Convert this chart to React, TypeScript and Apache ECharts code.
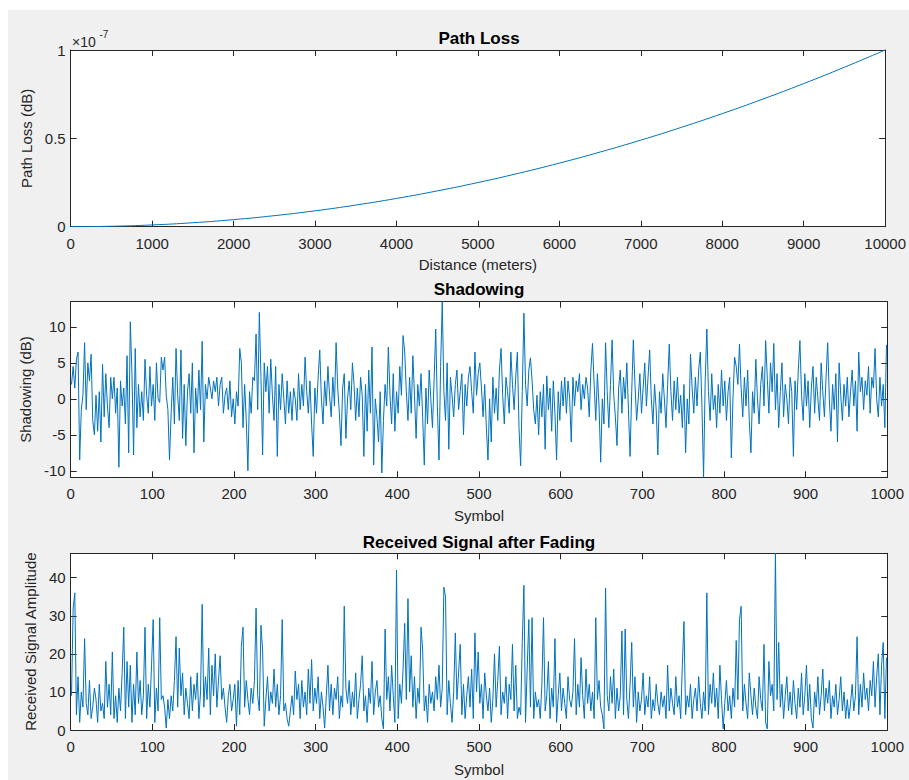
import React, { useEffect, useRef } from "react";
import * as echarts from "echarts";

// Path loss curve (distance in meters, loss in linear units)
const distances = [0, 500, 1000, 1500, 2000, 2500, 3000, 3500, 4000, 4500, 5000, 5500, 6000, 6500, 7000, 7500, 8000, 8500, 9000, 9500, 10000];
const pathLoss = [0, 0.0025e-7, 0.01e-7, 0.0225e-7, 0.04e-7, 0.0625e-7, 0.09e-7, 0.1225e-7, 0.16e-7, 0.2025e-7, 0.25e-7, 0.3025e-7, 0.36e-7, 0.4225e-7, 0.49e-7, 0.5625e-7, 0.64e-7, 0.7225e-7, 0.81e-7, 0.9025e-7, 1.0e-7];

// Shadowing (dB), sampled at symbols 1,3,5,...,999
const shadowing = [
  2, 4.5, 1.5, 5.5, 6.5, -8.5, -1.5, 0.5, 7.8, -1.5, 5, 2.5, 6.2, -3, -5, 0.5, -4.5, 1, -6, 4.8, -2.5, 3.5, -1, -4, 3,
  0, 3, -2, 1.5, -9.5, 2.5, -1, 1.5, -3.5, 6, -7.5, 10.7, 3.5, -7.8, 7, -4, 2, -2.5, 1, -3, 5.5, 0.5, -2, 4.5, -1,
  2, -3, 5, 0, -0.5, 5.8, 4, 5.8, 0.5, -1.5, -8.5, -2, 3, -3.5, 7, 0.5, -3, 6.8, -5.5, 2, -6.5, 1, 3.5, -2, 5,
  -7.5, 1.5, -2, 4, -1.5, 8, -6, 2, 0, 3, 1.5, 0, 2.5, 1, 3, -1, 2, 3, -2, 0.5, 1.5, -1.5, 2.5, -2.5, 0,
  -3.5, 1, -1, 7, 5, -4, 2, -3, -10, 1, -2, 3, 2.5, 9, -1.5, 12, 3, -7.8, 5, 1, 4.5, -2, 5.5, 0.5, -3,
  4.5, -8, 2, -1.5, 3.5, 0, -3.5, 2.5, -2, 1, -3, 1.5, 0, -3, 3.5, -1.5, 2, -1, 5.8, 1, -2, 2.5, -3.5, -8, 1.5,
  -2, 3, 6.8, 0, -3.5, 2.5, -1, 4.5, 0.5, -2.5, 3, -1, 7.8, 1.5, -2, -6.5, 1.5, 3.5, -5.5, 0, 2.5, -1.5, 5, 2, -3,
  1.5, -2.5, 3, 0.5, -8, 2, -4.5, 4, -2, 7.2, -9.2, 0, -2.5, -6, 1, -10.3, -3, 2, -1, 7.2, 0.5, -3.5, 3.5, -4.5, 1,
  -2, 4.5, 0.5, 8.8, 6.5, 1, -3, 3, -2, 6, 0.5, -5.5, 2, -1, 3.5, -2.5, -9.2, 1.5, -3.5, 4, 0, -4, 2.5, 9.7, -1,
  -8.5, 4.5, 13.5, 1, -3, 5, -7, 3, 0.5, -2.5, 2, 4, -1.5, 1, 3.5, -5, 2, -1, 3, 4.5, 1, -2, 6.5, 0.5, 3.5,
  5, 1.5, -2.5, 2, -4, -8.5, 0, -6, 3, -2, 1.5, -3, 4, 7, 0.5, -3.5, 3, 1, -2, 6.5, 2, -1.5, 3, 6.5, -4,
  -9.3, 1, 11.9, 2, -1, 4, 5.7, 2.5, -1.5, -3.5, 0.5, -5, 1, -2.5, 2, -7, 3.2, -1.5, 1.5, -4.5, 2.5, -2, -8.5, 1, -3,
  2.5, -1, 3, -2, 2.5, 0, -6, 3, -1, 2.5, 1, 3.5, -1.5, 2, 0, 3, 1.5, -2.5, 4, 7.7, 2, -3, 3.5, -1, -8.8,
  0, -3.5, 7.8, 1, -4, 2, 8.2, 0.5, -2.5, -6.5, 1.5, 4, -2, 3, 0, 5, -1.5, -8, 1, 8.2, 2, -3, 0, 3.5, -2,
  1.5, 5, -1, 3, 6.8, 0, -3.5, 2, -1.5, -7.8, 1, -2, 3.5, 0, -4, 2, 7.6, 1, -3, 2.5, -1.5, 3, -2, 0.5, -4,
  2, -7.5, 0, -3.5, 6.2, 1.5, -2, 3, -1, 4, 6.5, -1, -10.9, 2.5, 9.7, 1, -3, 3.5, -1.5, 0.5, -4, 2, -2, 4, -1,
  2.5, -3, 1, 3, -8.2, 0, 5.8, 4.5, 2, 7.6, 1.5, -2.5, 3, -1, 4, -3, -7.5, 1, -2, 5.5, 0, -3.5, 2, 4.5, -1,
  8.1, 3, -2, 5, 1, 7.7, -1.5, 3.5, -4, 1, 5, -2.5, 2, 0, -3.5, 3, 1, -8, 2.5, -1.5, 4, 8.1, 0.5, -3, 3.5,
  -1, 2.5, -4, 1.5, 4.5, -2, 3, 0, -3, 5, 1, -2.5, 3, 7.8, 0, -4.5, 2, -1.5, 3.5, -6, 5, 0.5, -3, 2, -1,
  3, -2.5, 1, 4, -1, 2.5, -4.5, 6.5, 1, 3, -1.5, 2.5, 0.5, 4.5, -2, 3, 1.5, 7, 0, -2.5, 3, -1, 2, -4, 7.5,
];

// Received signal amplitude after fading, sampled at symbols 1,3,5,...,999
const fading = [
  9, 32, 36, 4, 14, 2, 10, 6, 24, 7, 4, 13, 3, 6, 11, 8, 2, 12, 5, 7, 3, 18, 6, 12, 4,
  20.5, 3, 9, 2, 11, 5, 15, 27, 3, 18, 6, 17, 2, 12, 4, 20.5, 7, 13, 4, 9, 27, 3, 12, 6, 17,
  29, 2, 11, 5, 29.5, 8, 9, 6, 0.5, 8, 3, 9, 5, 13, 24.5, 6, 21.5, 9, 15, 4, 11, 7, 3, 14, 5,
  12, 8, 15, 3, 10, 33, 6, 14, 8, 21.5, 4, 17, 9, 20, 6, 13, 19.5, 8, 11, 6, 2, 9, 12, 5, 8,
  12, 1, 13, 4, 22, 27, 6, 13, 8, 4, 11, 7, 13, 32, 9, 5, 27.5, 21, 1, 8, 14, 5, 10, 7, 16,
  6, 12, 4, 9, 29, 5, 7, 3, 1, 5, 9, 4, 15.5, 8, 12, 3, 13, 6, 10, 4, 16, 7, 18.5, 5, 11,
  7, 14, 3, 10, 6, 0.5, 9, 17, 5, 12, 4, 11, 8, 14, 3, 9, 6, 32.5, 11, 7, 13, 4, 10, 6, 15,
  3, 8, 12, 19.5, 5, 9, 2, 11, 7, 18, 4, 10, 13, 6, 9, 3, 0.3, 26.5, 8, 14, 5, 17, 9, 2, 42,
  3, 12, 7, 16, 28, 8, 34.5, 10, 19.5, 6, 14, 3, 11, 7, 27, 21, 5, 9, 2, 12, 7, 10, 5, 14, 8,
  17, 6, 11, 37.5, 35, 4, 13, 7, 2, 10, 25.5, 8, 15, 22.5, 4, 12, 3, 9, 14, 6, 16, 3, 25.5, 10, 20.5,
  7, 12, 3, 15, 9, 5, 11, 2, 8, 20, 6, 13, 22, 4, 10, 7, 14, 3, 12, 8, 22.5, 5, 17, 3, 6,
  4, 23, 38, 2, 16, 29, 6, 29.5, 3, 10, 6, 8, 3, 12, 29.5, 5, 9, 18, 3, 11, 6, 24, 2, 9, 15,
  5, 11, 7, 3, 14, 8, 6, 10, 24, 4, 12, 6, 19, 9, 3, 16, 7, 12, 5, 10, 3, 29.5, 8, 13, 6,
  4, 0.3, 37.3, 9, 5, 14, 7, 16, 3, 11, 5, 9, 26, 4, 26.5, 8, 3, 12, 23, 6, 14, 2, 10, 5, 8,
  15, 4, 9, 6, 14, 3, 8, 5, 12, 7, 4, 10, 6, 9, 3, 17, 5, 11, 7, 4, 14, 6, 9, 3, 17,
  28.5, 4, 9, 6, 12, 3, 8, 11, 5, 14, 7, 3, 10, 5, 36, 4, 12, 7, 15, 6, 11, 3, 17, 8, 0.3,
  7, 13, 5, 9, 3, 11, 6, 23.5, 8, 29, 32.5, 5, 12, 7, 3, 15, 9, 4, 11, 6, 3, 14, 8, 5, 22.5,
  2, 0.3, 18, 9, 12, 5, 46.4, 8, 23, 6, 12, 3, 9, 14, 5, 10, 4, 13, 7, 3, 11, 6, 15, 4, 9,
  17, 5, 12, 3, 0.5, 10, 6, 14, 4, 9, 16, 5, 11, 7, 13, 3, 9, 6, 12, 4, 8, 14, 5, 10, 3,
  8, 3, 7, 12, 5, 9, 24.5, 4, 12, 6, 15, 8, 11, 5, 13, 9, 18, 6, 14, 20, 4, 17, 23, 3, 19,
];

const yTicks1 = [0, 0.5e-7, 1e-7];
const yTicks2 = [-10, -5, 0, 5, 10];
const yTicks3 = [0, 10, 20, 30, 40];

const FONT = "'Liberation Sans', Arial, Helvetica, sans-serif";
const AX = "#262626";
const LINE = "#0072BD";

export default function App() {
  const ref = useRef<HTMLDivElement>(null);
  useEffect(() => {
    if (!ref.current) return;
    const chart = echarts.init(ref.current, null, { renderer: "svg" });

    const L = 70.7;
    const R = 909 - 887.3;
    const grids = [
      { top: 50, height: 176.7 },
      { top: 301.7, height: 175.6 },
      { top: 553.3, height: 176.7 },
    ];
    const xCfg = [
      { min: 0, max: 10000, interval: 1000, name: "Distance (meters)", gap: 30 },
      { min: 0, max: 1000, interval: 100, name: "Symbol", gap: 31 },
      { min: 0, max: 1000, interval: 100, name: "Symbol", gap: 32 },
    ];
    const yCfg = [
      { min: 0, max: 1e-7, ticks: yTicks1, name: "Path Loss (dB)", gap: 31, fmt: (v: number) => String(Math.round(v * 1e8) / 10) },
      { min: -10.9, max: 13.5, ticks: yTicks2, name: "Shadowing (dB)", gap: 33, fmt: (v: number) => String(v) },
      { min: 0, max: 46.4, ticks: yTicks3, name: "Received Signal Amplitude", gap: 28, fmt: (v: number) => String(v) },
    ];

    const tick = { show: true, inside: true, length: 6, lineStyle: { color: AX, width: 1 } };
    const axLine = { show: true, onZero: false, lineStyle: { color: AX, width: 1 } };
    const lbl = { color: AX, fontSize: 15, fontFamily: FONT };

    const xAxis: any[] = [];
    const yAxis: any[] = [];
    grids.forEach((_, i) => {
      const xc = xCfg[i];
      xAxis.push({
        type: "value", gridIndex: i, position: "bottom", min: xc.min, max: xc.max, interval: xc.interval,
        axisLine: axLine, axisTick: tick, splitLine: { show: false },
        axisLabel: { ...lbl, margin: 9, showMinLabel: true, showMaxLabel: true, formatter: (v: number) => String(v) },
        name: xc.name, nameLocation: "middle", nameGap: xc.gap,
        nameTextStyle: { color: AX, fontSize: 15, fontFamily: FONT },
      });
      xAxis.push({
        type: "value", gridIndex: i, position: "top", min: xc.min, max: xc.max, interval: xc.interval,
        axisLine: axLine, axisTick: tick, splitLine: { show: false }, axisLabel: { show: false },
      });
      const yc = yCfg[i];
      yAxis.push({
        type: "value", gridIndex: i, position: "left", min: yc.min, max: yc.max,
        axisLine: axLine,
        axisTick: { ...tick, customValues: yc.ticks },
        splitLine: { show: false },
        axisLabel: { ...lbl, margin: 5, customValues: yc.ticks, formatter: yc.fmt },
        name: yc.name, nameLocation: "middle", nameGap: yc.gap,
        nameTextStyle: { color: AX, fontSize: 15, fontFamily: FONT },
      });
      yAxis.push({
        type: "value", gridIndex: i, position: "right", min: yc.min, max: yc.max,
        axisLine: axLine,
        axisTick: { ...tick, customValues: yc.ticks },
        splitLine: { show: false }, axisLabel: { show: false },
      });
    });

    const shadowData = shadowing.map((v, i) => [1 + 2 * i, v]);
    const fadingData = fading.map((v, i) => [1 + 2 * i, v]);
    const pathData = distances.map((d, i) => [d, pathLoss[i]]);

    const titleStyle = { fill: "#000", fontSize: 17, fontWeight: "bold", fontFamily: FONT, textAlign: "center", textVerticalAlign: "middle" };
    const cx = (70.7 + 887.3) / 2;

    chart.setOption({
      animation: false,
      grid: grids.map((g) => ({ left: L, right: R, top: g.top, height: g.height, show: true, backgroundColor: "#ffffff", borderWidth: 0 })),
      xAxis,
      yAxis,
      series: [
        { type: "line", xAxisIndex: 0, yAxisIndex: 0, data: pathData, showSymbol: false, smooth: true, lineStyle: { color: LINE, width: 1 } },
        { type: "line", xAxisIndex: 2, yAxisIndex: 2, data: shadowData, showSymbol: false, lineStyle: { color: LINE, width: 1 } },
        { type: "line", xAxisIndex: 4, yAxisIndex: 4, data: fadingData, showSymbol: false, lineStyle: { color: LINE, width: 1 } },
      ],
      graphic: [
        { type: "text", x: cx, y: 38, style: { ...titleStyle, text: "Path Loss" } },
        { type: "text", x: cx, y: 289, style: { ...titleStyle, text: "Shadowing" } },
        { type: "text", x: cx, y: 542, style: { ...titleStyle, text: "Received Signal after Fading" } },
        { type: "text", x: 72, y: 42, style: { text: "×10", fill: AX, fontSize: 14, fontFamily: FONT, textVerticalAlign: "middle" } },
        { type: "text", x: 99.5, y: 34.5, style: { text: "-7", fill: AX, fontSize: 10, fontFamily: FONT, textVerticalAlign: "middle" } },
      ],
    });
    return () => chart.dispose();
  }, []);

  return (
    <div style={{ position: "absolute", left: 0, top: 0, width: 909, height: 780, background: "#ffffff" }}>
      <div style={{ position: "absolute", left: 8, top: 10, width: 901, height: 770, background: "#f0f0f0" }} />
      <div ref={ref} style={{ position: "absolute", left: 0, top: 0, width: 909, height: 780 }} />
    </div>
  );
}
